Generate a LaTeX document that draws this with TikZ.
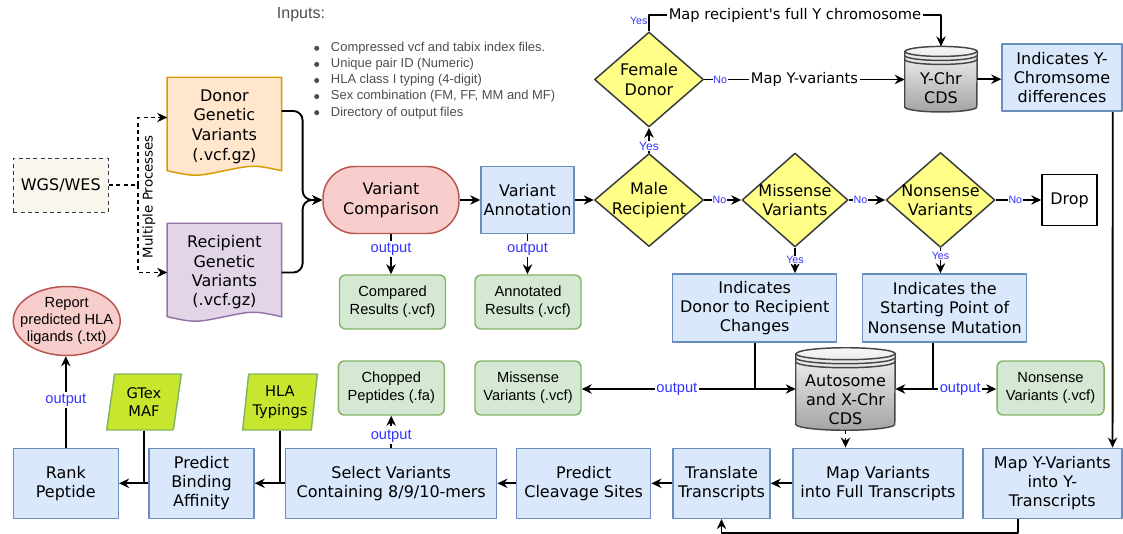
\documentclass[tikz,border=0pt]{standalone}
\usepackage{fontspec}
\setmainfont{DejaVu Sans}
\newfontfamily\arialf{Liberation Sans}
\usetikzlibrary{shapes.geometric,arrows.meta,calc,backgrounds}

\definecolor{procfill}{HTML}{DAE8FC}
\definecolor{procdraw}{HTML}{6C8EBF}
\definecolor{outfill}{HTML}{D5E8D4}
\definecolor{outdraw}{HTML}{82B366}
\definecolor{redfill}{HTML}{F8CECC}
\definecolor{reddraw}{HTML}{B85450}
\definecolor{decfill}{HTML}{FFFF88}
\definecolor{decdraw}{HTML}{36393D}
\definecolor{donfill}{HTML}{FFE6CC}
\definecolor{dondraw}{HTML}{D79B00}
\definecolor{recfill}{HTML}{E1D5E7}
\definecolor{recdraw}{HTML}{9673A6}
\definecolor{srcfill}{HTML}{F9F7ED}
\definecolor{limefill}{HTML}{C8E62E}
\definecolor{lbblue}{HTML}{3333FF}
\definecolor{inpgray}{HTML}{4D4D4D}

\newcommand*{\pxu}{0.75pt}

% document shape (wavy bottom) behind a node
\newcommand*{\drawdoc}[3]{%
    \begin{pgfonlayer}{background}
    \draw[draw=#3, fill=#2, line width=1.1pt] (#1.north west) -- (#1.north east) -- ($(#1.south east)+(0,-5)$)
        .. controls ($(#1.south east)+(-28,-11)$) .. ($(#1.south)+(0,-5)$)
        .. controls ($(#1.south west)+(28,1)$) .. ($(#1.south west)+(0,-5)$) -- cycle;
    \end{pgfonlayer}
}
% data store cylinder behind a node: node, x radius, y radius (px)
\newcommand*{\drawstore}[3]{%
    \begin{pgfonlayer}{background}
    \draw[storeedge, top color=gray!6, bottom color=gray!72] ($(#1.north west)+(0,#3)$) -- ($(#1.south west)+(0,-#3)$)
        arc[start angle=180, end angle=360, x radius=#2*\pxu, y radius=#3*\pxu]
        -- ($(#1.north east)+(0,#3)$)
        arc[start angle=0, end angle=180, x radius=#2*\pxu, y radius=#3*\pxu] -- cycle;
    \foreach \ringoff in {0,4,8}
        \draw[storeedge] ($(#1.north west)+(0,#3+\ringoff)$) arc[start angle=180, end angle=360, x radius=#2*\pxu, y radius=#3*\pxu];
    \end{pgfonlayer}
}

\begin{document}
\begin{tikzpicture}[x=0.75pt,y=-0.75pt,line join=round,
    flowbox/.style={rectangle, line width=1.1pt, inner sep=2pt, align=center, font=\fontsize{12}{14.4}\selectfont},
    proc/.style={flowbox, draw=procdraw, fill=procfill, minimum height=70*\pxu},
    outbox/.style={flowbox, draw=outdraw, fill=outfill, rounded corners=4.5pt, font=\arialf\fontsize{11}{13.5}\selectfont, minimum width=106*\pxu, minimum height=54*\pxu},
    decision/.style={diamond, draw=decdraw, fill=decfill, line width=1.1pt, inner sep=0pt},
    midtext/.style={align=center, inner sep=0pt, font=\fontsize{12}{14.4}\selectfont},
    storenode/.style={rectangle, inner sep=0pt},
    storeedge/.style={draw=gray!55!black, line width=1.1pt},
    datain/.style={trapezium, trapezium left angle=81, trapezium right angle=99, trapezium stretches=true, draw=outdraw, fill=limefill, line width=1.1pt, inner sep=1pt, align=center, font=\fontsize{11}{14}\selectfont, minimum width=75*\pxu, minimum height=56*\pxu},
    conn/.style={line width=1.4pt, -{Stealth[length=7.5pt, width=7pt]}},
    link/.style={line width=1.4pt},
    dconn/.style={conn, dash pattern=on 3pt off 2.5pt},
    outlbl/.style={text=lbblue, fill=white, inner sep=1pt, font=\arialf\fontsize{11}{13}\selectfont},
    yn/.style={text=lbblue, inner sep=0.5pt, font=\arialf\fontsize{8}{9}\selectfont},
    maplbl/.style={fill=white, inner sep=1.5pt, font=\fontsize{11}{13}\selectfont}]
    \useasboundingbox (0,0) rectangle (1123,534);

    % inputs
    \node (inhead) [anchor=west, inner sep=0pt, text=inpgray, font=\arialf\fontsize{12}{14}\selectfont] at (276.7,15) {Inputs:};
    \foreach \itm [count=\i] in {Compressed vcf and tabix index files., Unique pair ID (Numeric), HLA class I typing (4-digit), {Sex combination (FM, FF, MM and MF)}, Directory of output files} {
        \fill[inpgray] (316.7,{48.3+16.1*(\i-1)}) circle[radius=1.9pt];
        \node (inp\i) [anchor=west, inner sep=0pt, text=inpgray, font=\arialf\fontsize{9.7}{11.5}\selectfont] at (330.7,{48.3+16.1*(\i-1)}) {\itm};
    }

    % sources
    \node (wgs) [flowbox, draw=decdraw, fill=srcfill, dash pattern=on 3pt off 2.5pt, minimum width=95*\pxu, minimum height=54*\pxu] at (60.8,185.3) {WGS/WES};
    \node (donor) [flowbox, minimum width=113*\pxu, minimum height=97*\pxu, font=\fontsize{12}{14.8}\selectfont] at (224.4,126.5) {Donor\\Genetic\\Variants\\(.vcf.gz)};
    \drawdoc{donor}{donfill}{dondraw}
    \node (recip) [flowbox, minimum width=113*\pxu, minimum height=97*\pxu, font=\fontsize{12}{14.5}\selectfont] at (224.4,272.5) {Recipient\\Genetic\\Variants\\(.vcf.gz)};
    \drawdoc{recip}{recfill}{recdraw}
    \node (multi) [rotate=90, inner sep=0pt, font=\fontsize{10}{12}\selectfont] at (149,196.7) {Multiple Processes};

    % main row
    \node (cmp) [flowbox, draw=reddraw, fill=redfill, rounded corners=24pt, minimum width=136*\pxu, minimum height=67*\pxu] at (391,200) {Variant\\Comparison};
    \node (annot) [proc, minimum width=92*\pxu, minimum height=67*\pxu] at (527.5,200) {Variant\\Annotation};
    \node (male) [decision, minimum width=109*\pxu, minimum height=93*\pxu, label={[midtext]center:{Male\\Recipient}}] at (649,200) {};
    \node (female) [decision, minimum width=109*\pxu, minimum height=95*\pxu, label={[midtext]center:{Female\\Donor}}] at (649,79.5) {};
    \node (miss) [decision, minimum width=106*\pxu, minimum height=94*\pxu, label={[midtext]center:{Missense\\Variants}}] at (795,200) {};
    \node (nons) [decision, minimum width=109*\pxu, minimum height=95*\pxu, label={[midtext]center:{Nonsense\\Variants}}] at (940.5,200) {};
    \node (drop) [flowbox, draw=black, fill=white, minimum width=55*\pxu, minimum height=51*\pxu] at (1069.5,200) {Drop};

    % Y chromosome branch
    \node (ychr) [storenode, minimum width=72*\pxu, minimum height=65*\pxu, label={[midtext, yshift=-6.5pt]center:{Y-Chr\\CDS}}] at (941,79.2) {};
    \drawstore{ychr}{36}{5}
    \node (ybox) [proc, minimum width=120*\pxu, minimum height=67*\pxu] at (1062,77.7) {Indicates Y-\\Chromsome\\differences};

    % indications and outputs
    \node (inddonor) [proc, minimum width=164*\pxu, minimum height=68*\pxu] at (754.7,308) {Indicates\\Donor to Recipient\\Changes};
    \node (indstart) [proc, minimum width=164*\pxu, minimum height=68*\pxu] at (944.7,308) {Indicates the\\Starting Point of\\Nonsense Mutation};
    \node (compared) [outbox] at (392.5,302) {Compared\\Results (.vcf)};
    \node (annotated) [outbox] at (528,302) {Annotated\\Results (.vcf)};
    \node (chopped) [outbox] at (391.3,388) {Chopped\\Peptides (.fa)};
    \node (missvcf) [outbox] at (528,388) {Missense\\Variants (.vcf)};
    \node (nonsvcf) [outbox, minimum width=107*\pxu] at (1050.5,388) {Nonsense\\Variants (.vcf)};
    \node (auto) [storenode, minimum width=99*\pxu, minimum height=82*\pxu, label={[midtext, yshift=-8pt]center:{Autosome\\and X-Chr\\CDS}}] at (845.5,389) {};
    \drawstore{auto}{49.5}{6}
    \node (report) [ellipse, draw=reddraw, fill=redfill, line width=1.1pt, minimum width=107*\pxu, minimum height=69*\pxu, inner sep=0pt, label={[align=center, inner sep=0pt, font=\arialf\fontsize{11}{13.1}\selectfont]center:{Report\\predicted HLA\\ligands (.txt)}}] at (66.7,321) {};
    \node (gtex) [datain] at (144,402) {GTex\\MAF};
    \node (hla) [datain] at (280,402) {HLA\\Typings};

    % bottom row
    \node (rank) [proc, minimum width=105*\pxu] at (65.8,483.3) {Rank\\Peptide};
    \node (binding) [proc, minimum width=105*\pxu] at (201.5,483.3) {Predict\\Binding\\Affinity};
    \node (select) [proc, minimum width=211*\pxu] at (391.2,483.3) {Select Variants\\Containing 8/9/10-mers};
    \node (cleav) [proc, minimum width=134*\pxu] at (583.7,483.3) {Predict\\Cleavage Sites};
    \node (transl) [proc, minimum width=97*\pxu] at (721.5,483.3) {Translate\\Transcripts};
    \node (mapvar) [proc, minimum width=170*\pxu] at (878,483.3) {Map Variants\\into Full Transcripts};
    \node (mapy) [proc, minimum width=139*\pxu] at (1052.3,483.3) {Map Y-Variants\\into Y-\\Transcripts};

    % connectors
    \draw[link, dash pattern=on 3pt off 2.5pt] (wgs.east) -- ++(29,0) coordinate (split);
    \draw[dconn] (split) |- ($(donor.west)+(0,-9)$);
    \draw[dconn] (split) |- (recip.west);
    \draw[conn, rounded corners=7pt] ($(donor.east)+(0,-15.5)$) -- ++(21,0) |- (cmp.west);
    \draw[conn, rounded corners=7pt] (recip.east) -- ++(21,0) |- (cmp.west);
    \draw[conn] (cmp.east) -- (annot.west);
    \draw[conn] (annot.east) -- (male.west);
    \draw[conn] (male.north) -- node[yn, fill=white, pos=0.26, font=\arialf\fontsize{9}{10}\selectfont] {Yes} (female.south);
    \draw[conn] (female.north) node[yn, anchor=east, yshift=7.5pt] {Yes} -- ++(0,-16.3) -| node[maplbl, pos=0.25] {Map recipient\textquotesingle s full Y chromosome} (ychr.north);
    \draw[conn] (female.east) -- node[yn, fill=white, pos=0.08] {No} node[maplbl, pos=0.5] {Map Y-variants} (female.east -| ychr.west);
    \draw[conn] (ychr.east) -- (ychr.east -| ybox.west);
    \draw[conn] ($(ybox.south east)+(-10,0)$) -- ($(mapy.north east)+(-10,0)$);
    \draw[conn] (male.east) -- node[yn, fill=white, pos=0.41] {No} (miss.west);
    \draw[conn] (miss.east) -- node[yn, fill=white, pos=0.32] {No} (nons.west);
    \draw[conn] (nons.east) -- node[yn, fill=white, pos=0.43] {No} (drop.west);
    \draw[conn] (miss.south) -- node[yn, fill=white, pos=0.48] {Yes} (miss.south |- inddonor.north);
    \draw[conn] (nons.south) -- node[yn, fill=white, pos=0.3] {Yes} (nons.south |- indstart.north);
    \draw[conn] (cmp.south) -- node[outlbl, pos=0.37] {output} (cmp.south |- compared.north);
    \draw[conn] (annot.south) -- node[outlbl, pos=0.37] {output} (annot.south |- annotated.north);

    \draw[link] (inddonor.south) -- (inddonor.south |- auto.west) coordinate (jdonor);
    \draw[conn] (jdonor) -- (auto.west);
    \draw[conn] (jdonor) -- node[outlbl, pos=0.45] {output} (jdonor -| missvcf.east);
    \coordinate (tstart) at ($(indstart.south)+(-11.7,0)$);
    \draw[link] (tstart) -- (tstart |- auto.east) coordinate (jstart);
    \draw[conn] (jstart) -- (auto.east);
    \draw[conn] (jstart) -- node[outlbl, pos=0.43] {output} (jstart -| nonsvcf.west);

    \draw[dconn] (auto.south) -- (auto.south |- mapvar.north);
    \draw[conn] (mapvar.west) -- (transl.east);
    \draw[conn] (transl.west) -- (cleav.east);
    \draw[conn] (cleav.west) -- (select.east);
    \draw[conn] (select.west) -- (binding.east);
    \draw[link] (hla.south -| hla.center) -- (hla.center |- binding.east);
    \draw[conn] (binding.west) -- (rank.east);
    \draw[link] (gtex.south -| gtex.center) -- (gtex.center |- rank.east);
    \draw[conn] (rank.north) -- node[outlbl, pos=0.52] {output} (rank.north |- report.south);
    \draw[dconn] (select.north) -- node[outlbl, pos=0.37] {output} (select.north |- chopped.south);
    \draw[conn] ($(mapy.south)+(-34.3,0)$) -- ++(0,14) -| (transl.south);
\end{tikzpicture}
\end{document}
